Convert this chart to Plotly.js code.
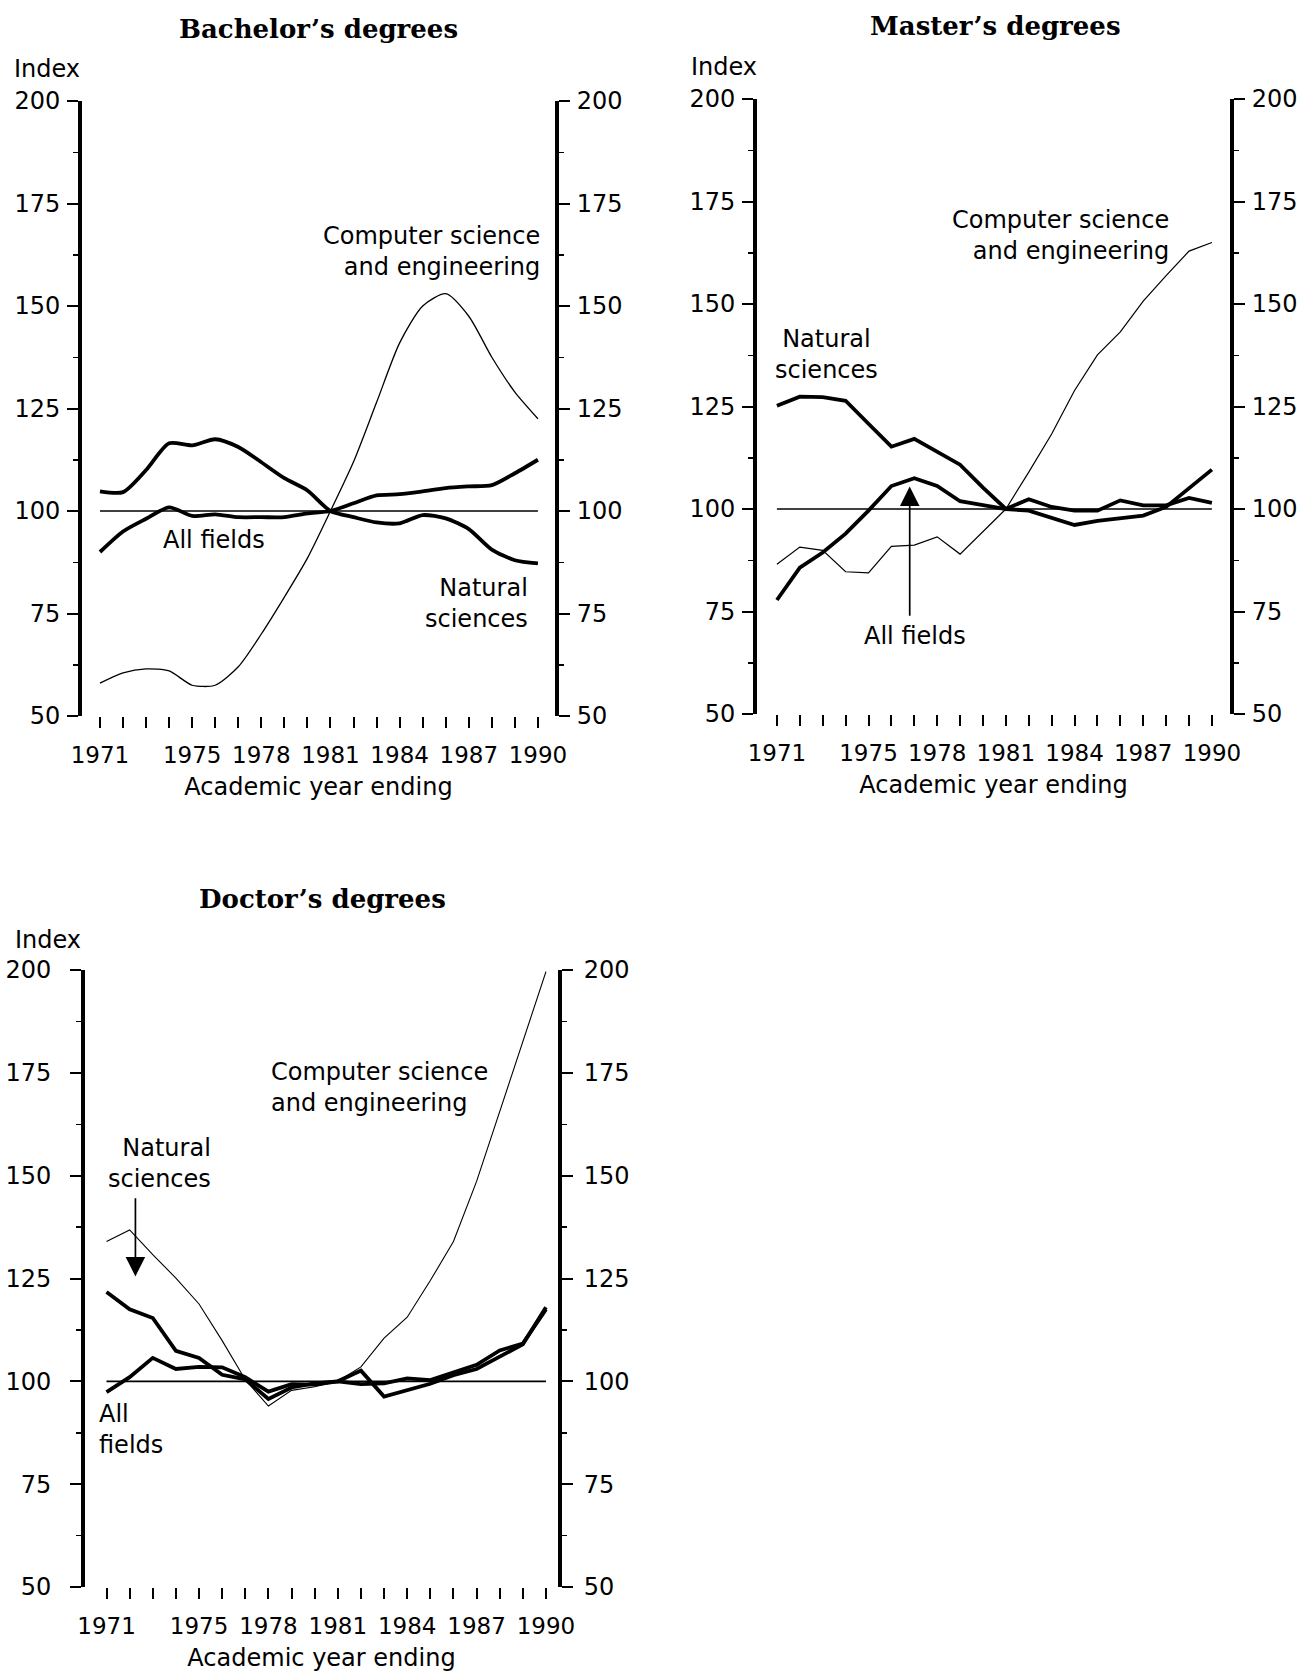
<!DOCTYPE html>
<html>
<head>
<meta charset="utf-8">
<script src="https://cdn.plot.ly/plotly-3.0.1.min.js"></script>
<style>
html,body{margin:0;padding:0;background:#fff;}
#chart{width:1304px;height:1672px;}
</style>
</head>
<body>
<div id="chart"></div>
<script>
// ---------------- DATA ----------------
const years = [1971,1972,1973,1974,1975,1976,1977,1978,1979,1980,1981,1982,1983,1984,1985,1986,1987,1988,1989,1990];
const xTickLabels = ['1971','','','','1975','','','1978','','','1981','','','1984','','','1987','','','1990'];
const yTickValues = [50,75,100,125,150,175,200];
const baselineIndex = 100;

// Bachelor's degrees (index, 1981 = 100)
const bachelorCompSciEng = [58,60.5,61.5,61,57.5,57.5,62,70,79,88.5,100,112,126.5,141,150,153,147.5,137.5,129,122.5];
const bachelorNaturalSci = [104.8,104.6,110,116.5,116,117.5,115.6,111.9,108,105,100,98.5,97.2,97,99,98.2,95.6,90.6,88,87.2];
const bachelorAllFields  = [90,95,98.1,100.9,98.8,99.2,98.5,98.5,98.5,99.4,100,101.9,103.8,104.1,104.8,105.6,106,106.3,109.2,112.5];

// Master's degrees
const masterCompSciEng = [86.5,90.7,89.9,84.7,84.4,90.9,91.2,93.2,89,94.6,100,109,118.3,128.9,137.6,143.2,150.7,156.9,162.9,165];
const masterNaturalSci = [125.2,127.4,127.3,126.4,120.8,115.2,117.1,114,110.8,105.2,100,102.4,100.5,99.6,99.6,102.1,100.9,100.9,102.7,101.5];
const masterAllFields  = [77.8,85.7,89.4,94,99.6,105.6,107.5,105.6,101.9,100.9,100,99.6,97.8,96.1,97.1,97.8,98.4,100.5,105.2,109.6];

// Doctor's degrees
const doctorCompSciEng = [134,136.8,130.8,125.1,118.8,109.9,100.4,94,97.8,98.7,100,103.5,110.5,115.6,124.5,134,148.6,165.7,182.9,199.6];
const doctorNaturalSci = [121.7,117.5,115.4,107.4,105.7,101.6,100.5,95.7,98.5,99.5,100,102.6,96.3,97.8,99.4,101.5,103,106,109,118];
const doctorAllFields  = [97.4,101,105.7,103,103.5,103.4,101,97.5,99.3,99.2,100,99.3,99.5,100.7,100.3,102.2,104,107.5,109.2,117.5];

// ---------------- LAYOUT HELPERS ----------------
const W = 1304, H = 1672;
const fx = p => p / W;
const fy = p => 1 - p / H;
const SANS = 'DejaVu Sans';
const SERIF = 'DejaVu Serif';
const BLACK = '#000';

function lineTrace(y, xa, ya, width, shape) {
  return {
    type: 'scatter', mode: 'lines', x: years, y: y, xaxis: xa, yaxis: ya,
    line: {color: BLACK, width: width, shape: shape, smoothing: 0.7},
    hoverinfo: 'skip', showlegend: false
  };
}
function baseTrace(xa, ya) {
  return lineTrace(years.map(() => baselineIndex), xa, ya, 1.6, 'linear');
}

function xAxis(left, right, range, anchor) {
  return {
    domain: [fx(left), fx(right)], range: range, anchor: anchor,
    tickmode: 'array', tickvals: years, ticktext: xTickLabels,
    ticks: 'outside', ticklen: 11, tickwidth: 2, tickcolor: BLACK,
    ticklabelstandoff: 7,
    showline: false, showgrid: false, zeroline: false, fixedrange: true,
    tickfont: {family: SANS, size: 23, color: BLACK},
    title: {text: 'Academic year ending', font: {family: SANS, size: 24, color: BLACK}, standoff: 11}
  };
}
function yAxis(top, bottom, anchor, side, overlay, standoff) {
  const ax = {
    range: [50, 200], anchor: anchor, side: side,
    tickmode: 'array', tickvals: yTickValues,
    ticks: 'outside', ticklen: 11, tickwidth: 2, tickcolor: BLACK,
    ticklabelstandoff: standoff,
    minor: {tick0: 50, dtick: 12.5, ticks: 'outside', ticklen: 5, tickwidth: 1.5, tickcolor: BLACK},
    showline: true, linewidth: 4, linecolor: BLACK,
    showgrid: false, zeroline: false, fixedrange: true,
    tickfont: {family: SANS, size: 24, color: BLACK}
  };
  if (overlay) { ax.overlaying = overlay; ax.mirror = true; } else { ax.domain = [fy(bottom), fy(top)]; }
  return ax;
}

const traces = [
  baseTrace('x', 'y2'),
  lineTrace(bachelorCompSciEng, 'x', 'y', 1.3, 'spline'),
  lineTrace(bachelorNaturalSci, 'x', 'y', 3.8, 'spline'),
  lineTrace(bachelorAllFields, 'x', 'y', 3.8, 'spline'),

  baseTrace('x2', 'y4'),
  lineTrace(masterCompSciEng, 'x2', 'y3', 1.2, 'linear'),
  lineTrace(masterNaturalSci, 'x2', 'y3', 3.8, 'linear'),
  lineTrace(masterAllFields, 'x2', 'y3', 3.8, 'linear'),

  baseTrace('x3', 'y6'),
  lineTrace(doctorCompSciEng, 'x3', 'y5', 1.1, 'linear'),
  lineTrace(doctorNaturalSci, 'x3', 'y5', 3.8, 'linear'),
  lineTrace(doctorAllFields, 'x3', 'y5', 3.8, 'linear')
];

function label(text, x, y, xanchor, align, size) {
  return {
    xref: 'paper', yref: 'paper', x: fx(x), y: fy(y), text: text,
    xanchor: xanchor, yanchor: 'middle', align: align || 'left', showarrow: false,
    font: {family: SANS, size: size || 24, color: BLACK}
  };
}
function title(text, x, y) {
  return {
    xref: 'paper', yref: 'paper', x: fx(x), y: fy(y), text: text,
    xanchor: 'center', yanchor: 'middle', showarrow: false,
    font: {family: SERIF, size: 26, color: BLACK, weight: 'bold'}
  };
}
function arrow(xa, ya, xHead, yHead, yTail) {
  return {
    xref: xa, yref: ya, x: xHead, y: yHead,
    axref: xa, ayref: ya, ax: xHead, ay: yTail,
    showarrow: true, arrowhead: 2, arrowsize: 2.3, arrowwidth: 1.7, arrowcolor: BLACK,
    font: {size: 1}
  };
}

const annotations = [
  // Bachelor's
  title('Bachelor\u2019s degrees', 318, 29),
  label('Index', 12, 69, 'left'),
  label('Computer science<br>and engineering', 542, 251, 'right', 'right'),
  label('All fields', 161, 540, 'left'),
  label('Natural<br>sciences', 530, 603, 'right', 'right'),
  // Master's
  title('Master\u2019s degrees', 995, 26),
  label('Index', 689, 67, 'left'),
  label('Computer science<br>and engineering', 1171, 235, 'right', 'right'),
  label('Natural<br>sciences', 826, 354, 'center', 'center'),
  label('All fields', 915, 636, 'center'),
  arrow('x2', 'y3', 1976.8, 105.5, 73.5),
  // Doctor's
  title('Doctor\u2019s degrees', 322, 899),
  label('Index', 13, 940, 'left'),
  label('Computer science<br>and engineering', 269, 1087, 'left', 'left'),
  label('Natural<br>sciences', 213, 1163, 'right', 'right'),
  arrow('x3', 'y5', 1972.25, 125.5, 145),
  label('All<br>fields', 97, 1429, 'left', 'left')
];

const layout = {
  width: W, height: H,
  margin: {l: 0, r: 0, t: 0, b: 0},
  paper_bgcolor: '#fff', plot_bgcolor: 'rgba(0,0,0,0)',
  showlegend: false,
  font: {family: SANS, color: BLACK},
  xaxis:  xAxis(82, 555, [1970.22, 1990.74], 'y'),
  yaxis:  yAxis(101, 716, 'x', 'left', null, 2),
  yaxis2: yAxis(101, 716, 'x', 'right', 'y', 2),
  xaxis2: xAxis(757, 1230, [1970.13, 1990.79], 'y3'),
  yaxis3: yAxis(99, 714, 'x2', 'left', null, 2),
  yaxis4: yAxis(99, 714, 'x2', 'right', 'y3', 2),
  xaxis3: xAxis(85, 558, [1970.07, 1990.52], 'y5'),
  yaxis5: yAxis(970, 1587, 'x3', 'left', null, 14),
  yaxis6: yAxis(970, 1587, 'x3', 'right', 'y5', 6),
  annotations: annotations
};

Plotly.newPlot('chart', traces, layout, {staticPlot: true, displayModeBar: false});
</script>
</body>
</html>
